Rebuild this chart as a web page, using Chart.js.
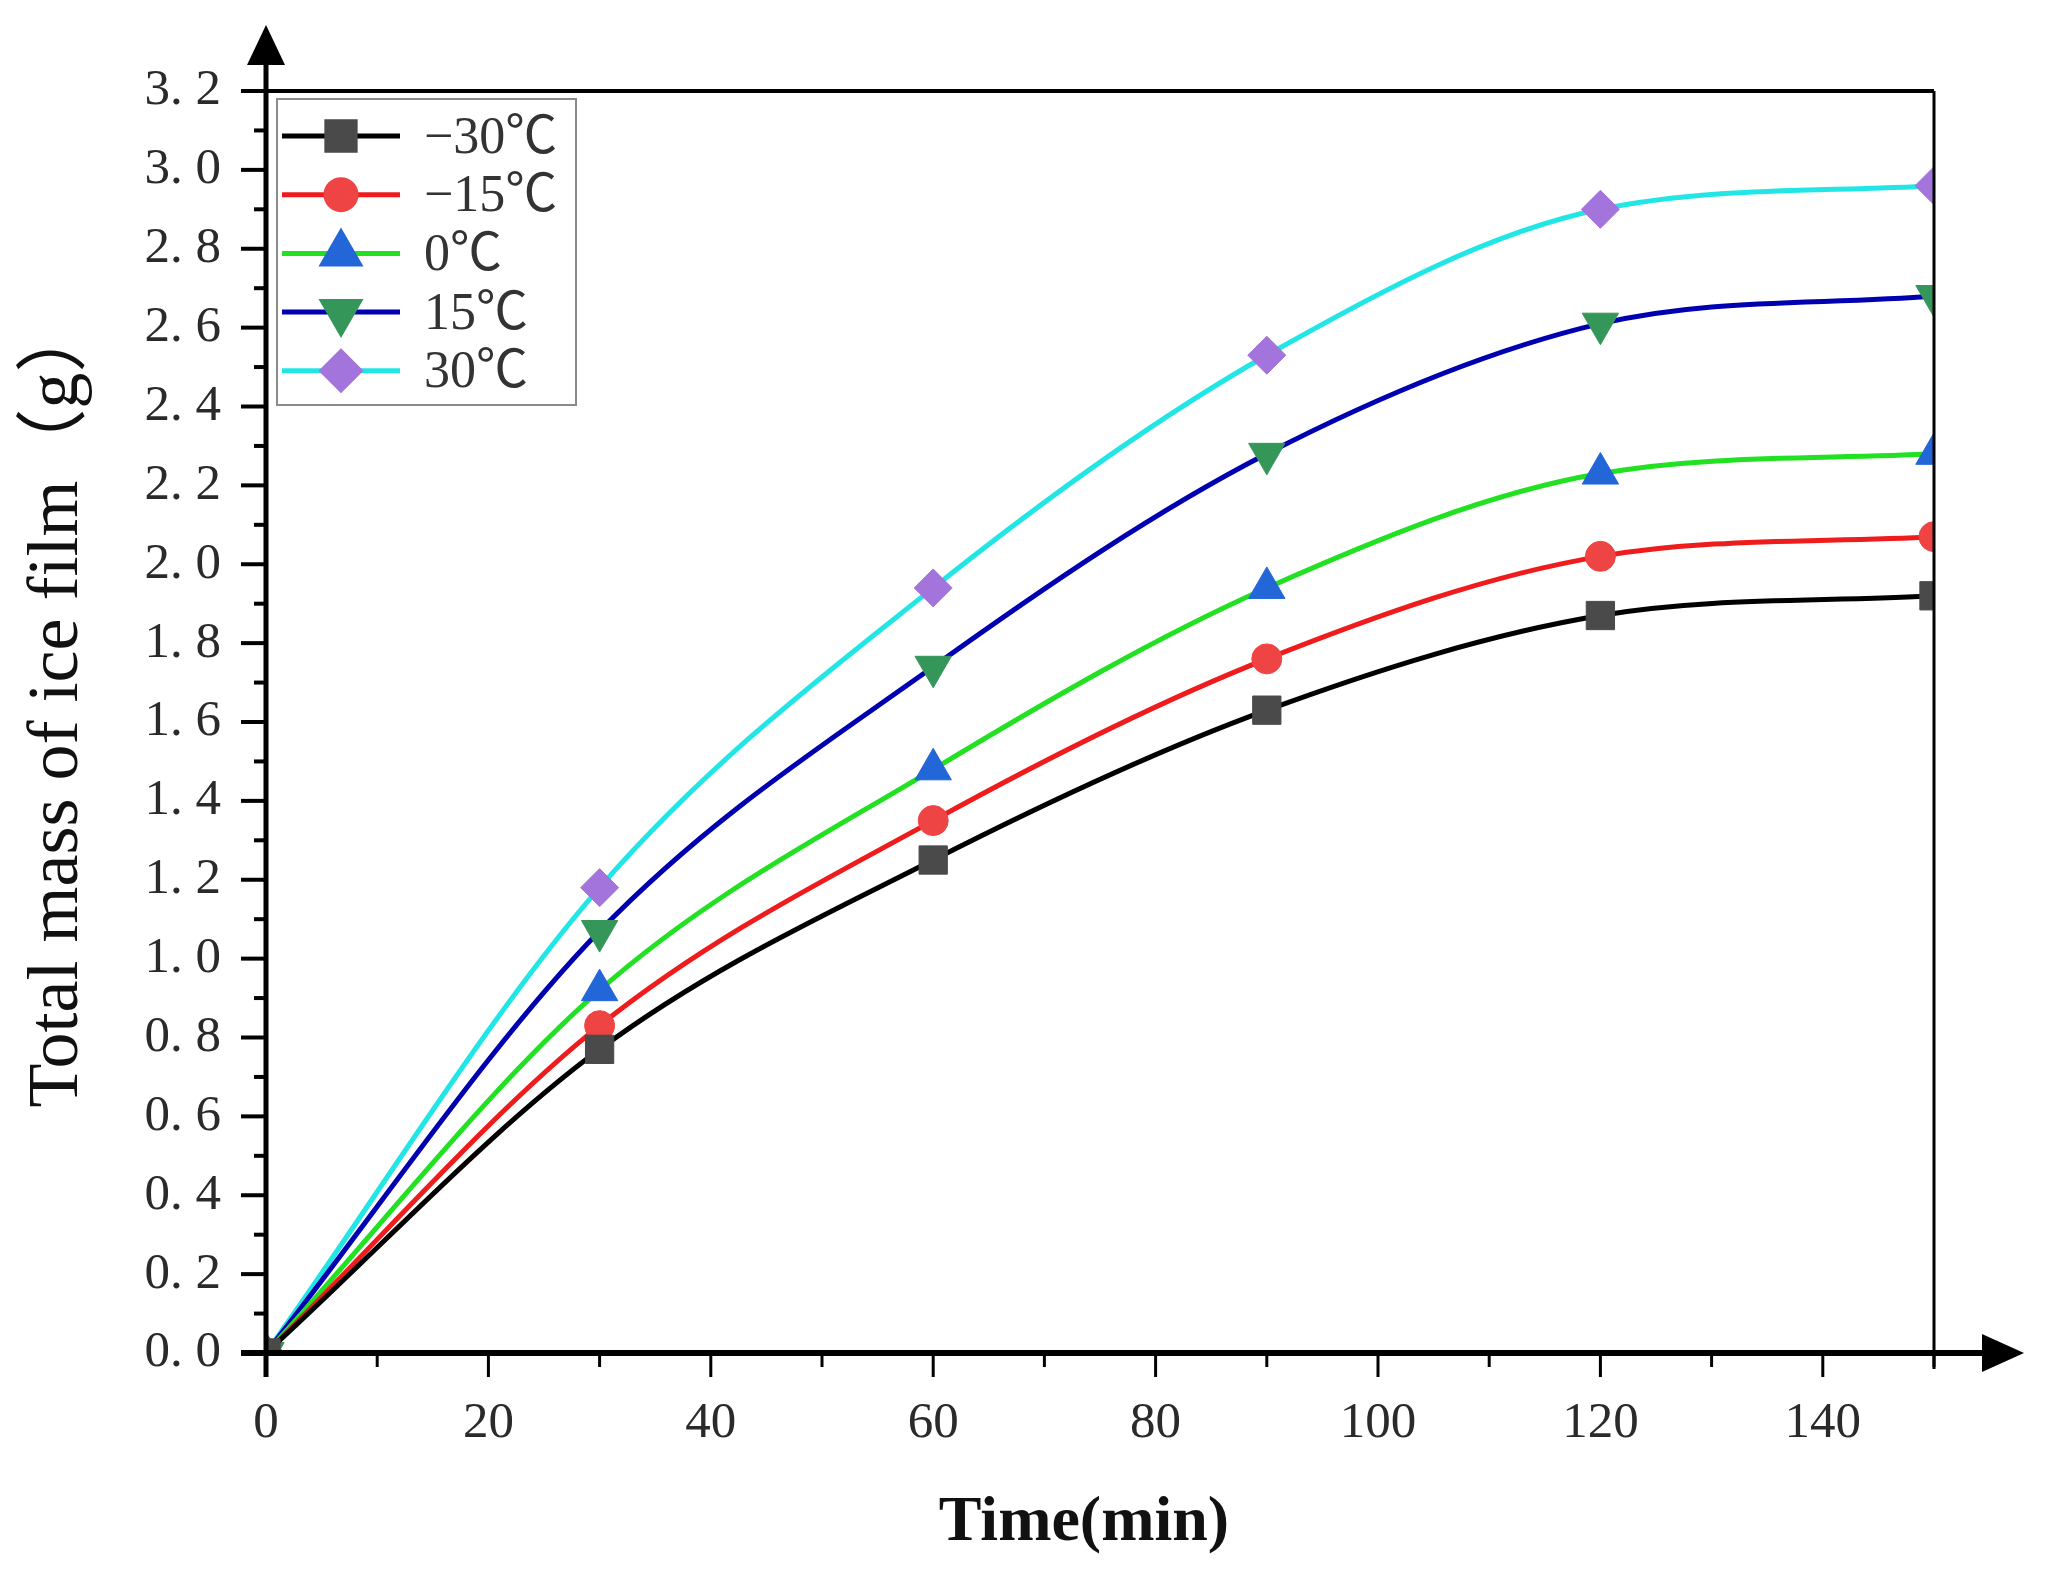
<!DOCTYPE html>
<html>
<head>
<meta charset="utf-8">
<script src="https://cdn.jsdelivr.net/npm/chart.js@4.4.1/dist/chart.umd.min.js"></script>
<style>
  html, body { margin: 0; padding: 0; background: #ffffff; }
  #wrap { width: 2049px; height: 1584px; }
</style>
</head>
<body>
<div id="wrap"><canvas id="c" width="2049" height="1584"></canvas></div>
<script>
// ---------- data ----------
const times = [0, 30, 60, 90, 120, 150];
const seriesLabels = ['\u221230\u2103', '\u221215\u2103', '0\u2103', '15\u2103', '30\u2103'];
const massM30 = [0, 0.77, 1.25, 1.63, 1.87, 1.92];
const massM15 = [0, 0.83, 1.35, 1.76, 2.02, 2.07];
const mass0   = [0, 0.92, 1.48, 1.94, 2.23, 2.28];
const mass15  = [0, 1.07, 1.74, 2.28, 2.61, 2.68];
const mass30  = [0, 1.18, 1.94, 2.53, 2.90, 2.96];
const xTickValues = [0, 20, 40, 60, 80, 100, 120, 140];
const yTickValues = [0, 0.2, 0.4, 0.6, 0.8, 1.0, 1.2, 1.4, 1.6, 1.8, 2.0, 2.2, 2.4, 2.6, 2.8, 3.0, 3.2];

// ---------- styles ----------
const styles = [
  { line: '#000000', fill: '#4a4a4a', pointStyle: 'rect', radius: 20, rotation: 0 },
  { line: '#ee1c1c', fill: '#ef4444', pointStyle: 'circle', radius: 15, rotation: 0 },
  { line: '#22e022', fill: '#2266d8', pointStyle: 'triangle', radius: 21, rotation: 0 },
  { line: '#0000b0', fill: '#35965a', pointStyle: 'triangle', radius: 21, rotation: 180 },
  { line: '#22e6e6', fill: '#a374dc', pointStyle: 'rectRot', radius: 19, rotation: 0 }
];
const allSeries = [massM30, massM15, mass0, mass15, mass30];

const datasets = allSeries.map((arr, i) => ({
  label: seriesLabels[i],
  data: times.map((t, j) => ({ x: t, y: arr[j] })),
  borderColor: styles[i].line,
  backgroundColor: styles[i].fill,
  borderWidth: 5,
  cubicInterpolationMode: 'monotone',
  pointStyle: styles[i].pointStyle,
  pointRotation: styles[i].rotation,
  pointRadius: styles[i].radius,
  pointBackgroundColor: styles[i].fill,
  pointBorderColor: styles[i].fill,
  pointBorderWidth: 1,
  fill: false
}));

const AXIS = '#000000';

const axesPlugin = {
  id: 'axesPlugin',
  afterDatasetsDraw(chart) {
    const ctx = chart.ctx;
    const xs = chart.scales.x, ys = chart.scales.y;
    const L = xs.getPixelForValue(0), R = xs.getPixelForValue(150);
    const B = ys.getPixelForValue(0), T = ys.getPixelForValue(3.2);
    ctx.save();
    ctx.strokeStyle = AXIS;
    ctx.fillStyle = AXIS;
    ctx.lineCap = 'butt';
    ctx.lineWidth = 4;
    ctx.beginPath(); ctx.moveTo(L, T); ctx.lineTo(R, T); ctx.stroke();
    ctx.lineWidth = 3;
    ctx.beginPath(); ctx.moveTo(R, T); ctx.lineTo(R, B + 16); ctx.stroke();
    ctx.lineWidth = 5;
    ctx.beginPath(); ctx.moveTo(L, B + 24); ctx.lineTo(L, T - 30); ctx.stroke();
    ctx.beginPath(); ctx.moveTo(L, T - 66); ctx.lineTo(L - 19, T - 26); ctx.lineTo(L + 19, T - 26); ctx.closePath(); ctx.fill();
    ctx.lineWidth = 6;
    ctx.beginPath(); ctx.moveTo(L - 25, B); ctx.lineTo(R + 52, B); ctx.stroke();
    ctx.beginPath(); ctx.moveTo(R + 90, B); ctx.lineTo(R + 48, B - 19); ctx.lineTo(R + 48, B + 19); ctx.closePath(); ctx.fill();
    ctx.lineWidth = 4;
    for (let k = 0; k <= 32; k++) {
      const y = ys.getPixelForValue(k / 10);
      const len = (k % 2 === 0) ? 25 : 12;
      ctx.beginPath(); ctx.moveTo(L, y); ctx.lineTo(L - len, y); ctx.stroke();
    }
    ctx.lineWidth = 3;
    for (let v = 0; v <= 150; v += 10) {
      const x = xs.getPixelForValue(v);
      const len = (v % 20 === 0) ? 24 : 14;
      ctx.beginPath(); ctx.moveTo(x, B); ctx.lineTo(x, B + len); ctx.stroke();
    }
    ctx.restore();
  }
};

const legendPlugin = {
  id: 'boxLegend',
  afterDraw(chart) {
    const ctx = chart.ctx;
    const bx = 277, by = 99, bw = 299, bh = 306;
    ctx.save();
    ctx.fillStyle = '#ffffff';
    ctx.fillRect(bx, by, bw, bh);
    ctx.strokeStyle = '#8a8a8a';
    ctx.lineWidth = 2;
    ctx.strokeRect(bx, by, bw, bh);
    const rowY0 = 136, rowStep = 58.7;
    chart.data.datasets.forEach((ds, i) => {
      const y = rowY0 + i * rowStep;
      ctx.strokeStyle = ds.borderColor;
      ctx.lineWidth = 5;
      ctx.beginPath(); ctx.moveTo(282, y); ctx.lineTo(400, y); ctx.stroke();
      ctx.fillStyle = ds.pointBackgroundColor;
      ctx.strokeStyle = ds.pointBorderColor;
      Chart.helpers.drawPoint(ctx, {
        pointStyle: ds.pointStyle,
        rotation: ds.pointRotation,
        radius: ds.pointRadius,
        borderWidth: 1
      }, 341, y);
      ctx.fillStyle = '#333333';
      ctx.font = '52px "Liberation Serif", "Noto Sans CJK SC", serif';
      ctx.textBaseline = 'middle';
      ctx.textAlign = 'left';
      ctx.fillText(ds.label, 424, y + 3);
    });
    ctx.restore();
  }
};

new Chart(document.getElementById('c'), {
  type: 'line',
  data: { datasets },
  plugins: [axesPlugin, legendPlugin],
  options: {
    responsive: false,
    animation: false,
    devicePixelRatio: 1,
    layout: { padding: { top: 91, right: 115, left: 0, bottom: 0 } },
    plugins: { legend: { display: false }, tooltip: { enabled: false } },
    scales: {
      x: {
        type: 'linear',
        min: 0, max: 150,
        afterFit(s) { s.height = 231; },
        afterBuildTicks(s) { s.ticks = xTickValues.map(v => ({ value: v })); },
        grid: { display: false, drawTicks: false },
        border: { display: false },
        ticks: {
          padding: 40,
          maxRotation: 0,
          color: '#2a2a2a',
          font: { family: '"Liberation Serif", serif', size: 51 },
          callback: v => String(v)
        },
        title: {
          display: true,
          text: 'Time(min)\u2002',
          color: '#111111',
          font: { family: '"Liberation Serif", serif', size: 64, weight: 'bold' },
          padding: { top: 0, bottom: 22 }
        }
      },
      y: {
        type: 'linear',
        min: 0, max: 3.2,
        afterFit(s) { s.width = 266; },
        afterBuildTicks(s) { s.ticks = yTickValues.map(v => ({ value: v })); },
        grid: { display: false, drawTicks: false },
        border: { display: false },
        ticks: {
          padding: 45,
          color: '#2a2a2a',
          font: { family: '"Liberation Serif", serif', size: 51 },
          callback: v => v.toFixed(1).replace('.', '. ')
        },
        title: {
          display: true,
          text: '\u2002Total mass of ice film\uff08g\uff09',
          color: '#111111',
          font: { family: '"Liberation Serif", "Noto Sans CJK SC", serif', size: 72 },
          padding: { top: 15, bottom: 0 }
        }
      }
    }
  }
});
</script>
</body>
</html>
